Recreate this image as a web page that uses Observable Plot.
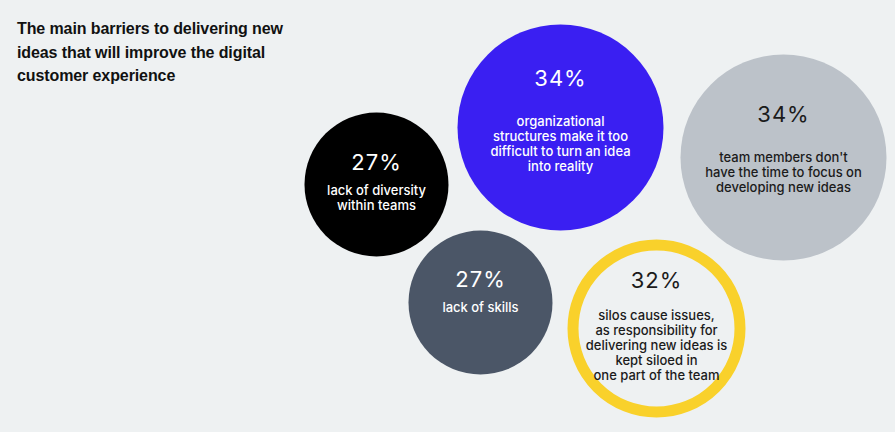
<!DOCTYPE html>
<html>
<head>
<meta charset="utf-8">
<script src="https://cdn.jsdelivr.net/npm/d3@7"></script>
<script src="https://cdn.jsdelivr.net/npm/@observablehq/plot@0.6"></script>
<style>
  html, body { margin: 0; padding: 0; background: #eef1f2; }
  #wrap { position: relative; width: 895px; height: 432px; overflow: hidden; background: #eef1f2; }
  #title { position: absolute; left: 17px; top: 17px; font-family: "Liberation Sans", Arial, sans-serif; font-weight: 700; font-size: 16px; line-height: 23.7px; color: #111; letter-spacing: -0.1px; }
  #chart { position: absolute; left: 0; top: 0; }
</style>
</head>
<body>
<div id="wrap">
  <div id="chart"></div>
  <div id="title">The main barriers to delivering new<br>ideas that will improve the digital<br>customer experience</div>
</div>
<script>
// Data
const barriers = [
  "lack of diversity\nwithin teams",
  "organizational\nstructures make it too\ndifficult to turn an idea\ninto reality",
  "team members don't\nhave the time to focus on\ndeveloping new ideas",
  "lack of skills",
  "silos cause issues,\nas responsibility for\ndelivering new ideas is\nkept siloed in\none part of the team"
];
const shares = [27, 34, 34, 27, 32];

// Layout (bubble centres in page units) and per-bubble text offsets
const layoutX = [376, 560, 783, 480, 656];
const layoutY = [184, 127, 157, 302, 328];
const pctOffset = [-22, -49, -43, -23, -48];
const labelOffset = [0, -12.5, -6, -1, -19];

// Styles
const fills = ["#000000", "#3a1ff2", "#bcc2c9", "#4b5667", "#eef1f2"];
const strokes = ["none", "none", "none", "none", "#f9d12b"];
const textColors = ["#ffffff", "#ffffff", "#1b1b1b", "#ffffff", "#1b1b1b"];

const rows = shares.map((v, i) => ({
  value: v,
  pct: v + "%",
  label: barriers[i],
  x: layoutX[i],
  y: layoutY[i],
  yPct: layoutY[i] + pctOffset[i],
  yLabel: layoutY[i] + labelOffset[i],
  fill: fills[i],
  stroke: strokes[i],
  ink: textColors[i]
}));

const chart = Plot.plot({
  width: 895,
  height: 432,
  margin: 0,
  style: { background: "transparent", overflow: "visible" },
  x: { domain: [0, 895], range: [0, 895], axis: null },
  y: { domain: [0, 432], range: [0, 432], axis: null },
  r: { type: "linear", domain: [27, 32, 34], range: [72, 83.5, 103] },
  color: { type: "identity" },
  marks: [
    Plot.dot(rows, {
      x: "x", y: "y", r: "value",
      fill: "fill",
      stroke: "stroke",
      strokeWidth: 11
    }),
    Plot.text(rows, {
      x: "x", y: "yPct", text: "pct",
      fill: "ink",
      fontSize: 22,
      fontFamily: "Inter, 'DejaVu Sans', sans-serif",
      fontWeight: 400,
      textAnchor: "middle",
      lineAnchor: "middle"
    }),
    Plot.text(rows, {
      x: "x", y: "yLabel", text: "label",
      fill: "ink",
      fontSize: 13,
      fontFamily: "Inter, 'DejaVu Sans', sans-serif",
      fontWeight: 500,
      lineHeight: 1.154,
      textAnchor: "middle",
      lineAnchor: "top"
    })
  ]
});
chart.querySelectorAll("text").forEach(t => {
  if (/%$/.test(t.textContent)) t.setAttribute("letter-spacing", "1");
});
document.getElementById("chart").appendChild(chart);
</script>
</body>
</html>
